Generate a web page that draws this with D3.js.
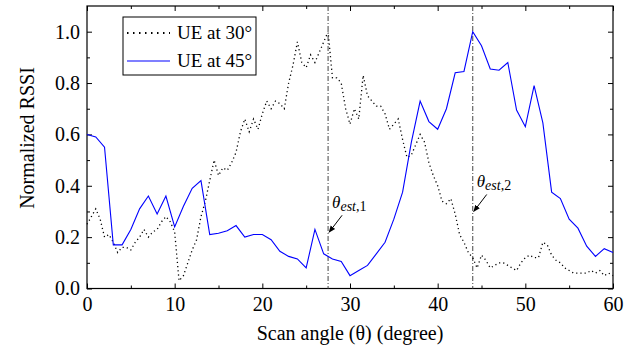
<!DOCTYPE html>
<html>
<head>
<meta charset="utf-8">
<script src="https://cdn.jsdelivr.net/npm/d3@7"></script>
<style>
  html, body { margin: 0; padding: 0; background: #fff; }
  svg, svg text { font-family: "Times New Roman", "Liberation Serif", Times, serif; }
</style>
</head>
<body>
<svg id="chart" width="641" height="351"></svg>
<script>
// UE at 45°: one sample per degree, 0..60
const angles45 = d3.range(0, 61, 1);
const rssi45 = [
  0.60, 0.59, 0.55, 0.17, 0.17, 0.23, 0.31, 0.36, 0.29, 0.36,
  0.24, 0.32, 0.39, 0.42, 0.21, 0.215, 0.225, 0.245, 0.20, 0.21,
  0.21, 0.19, 0.145, 0.125, 0.115, 0.08, 0.23, 0.135, 0.115, 0.105,
  0.05, 0.07, 0.09, 0.135, 0.18, 0.27, 0.375, 0.57, 0.73, 0.65,
  0.62, 0.70, 0.84, 0.845, 1.00, 0.945, 0.855, 0.85, 0.88, 0.695,
  0.63, 0.79, 0.645, 0.375, 0.35, 0.27, 0.235, 0.165, 0.125, 0.155,
  0.14
];

// UE at 30°: one sample per half degree, 0..60
const angles30 = d3.range(0, 60.5, 0.5);
const rssi30 = [
  0.25, 0.28, 0.31, 0.27, 0.20, 0.21, 0.18, 0.14, 0.16, 0.16,
  0.15, 0.18, 0.20, 0.23, 0.20, 0.22, 0.23, 0.26, 0.28, 0.26,
  0.22, 0.03, 0.05, 0.10, 0.15, 0.19, 0.28, 0.34, 0.42, 0.50,
  0.44, 0.47, 0.46, 0.49, 0.53, 0.61, 0.66, 0.61, 0.66, 0.62,
  0.68, 0.73, 0.70, 0.73, 0.72, 0.70, 0.80, 0.87, 0.96, 0.88,
  0.86, 0.91, 0.88, 0.92, 0.96, 1.00, 0.82, 0.82, 0.80, 0.70,
  0.64, 0.70, 0.66, 0.83, 0.75, 0.73, 0.71, 0.71, 0.68, 0.62,
  0.64, 0.66, 0.58, 0.51, 0.52, 0.56, 0.60, 0.57, 0.49, 0.44,
  0.40, 0.34, 0.33, 0.35, 0.29, 0.21, 0.18, 0.14, 0.12, 0.08,
  0.13, 0.11, 0.08, 0.09, 0.10, 0.10, 0.09, 0.08, 0.07, 0.10,
  0.12, 0.13, 0.12, 0.12, 0.18, 0.17, 0.13, 0.11, 0.10, 0.08,
  0.07, 0.06, 0.06, 0.06, 0.06, 0.07, 0.06, 0.07, 0.05, 0.06,
  0.05
];

const estAngles = [27.5, 44];
const estLabels = ["1", "2"];
const estArrowY = [0.215, 0.296];

const xTicks = [0, 10, 20, 30, 40, 50, 60];
const xMinor = [5, 15, 25, 35, 45, 55];
const yTicks = [0, 0.2, 0.4, 0.6, 0.8, 1.0];
const yMinor = [0.1, 0.3, 0.5, 0.7, 0.9];

const legendItems = [
  {label: "UE at 30°", dashed: true, color: "#000"},
  {label: "UE at 45°", dashed: false, color: "#0000ff"},
];

const FONT = "'Times New Roman', 'Liberation Serif', Times, serif";
const FS = 20;
const W = 641, H = 351;
const margin = {top: 6, right: 28, bottom: 63, left: 87};
const svg = d3.select("#chart").attr("font-family", FONT);

const x = d3.scaleLinear().domain([0, 60]).range([margin.left, W - margin.right]);
const y = d3.scaleLinear().domain([0, 1.1]).range([H - margin.bottom + 0.5, margin.top]);

// ── axes (ticks inward on all four sides) ──────────────────────────────
function styleAxis(g) {
  g.attr("font-family", FONT).attr("font-size", FS);
  g.selectAll("path.domain").remove();
  g.selectAll("line").attr("stroke", "#000").attr("stroke-width", 1);
  g.selectAll("text").attr("fill", "#000");
}

svg.append("g").attr("transform", `translate(0,${y(0)})`)
  .call(d3.axisBottom(x).tickValues(xTicks).tickSize(-5).tickPadding(8).tickFormat(d3.format("d")))
  .call(styleAxis);
svg.append("g").attr("transform", `translate(0,${y(0)})`)
  .call(d3.axisBottom(x).tickValues(xMinor).tickSize(-3).tickFormat(""))
  .call(styleAxis);
svg.append("g").attr("transform", `translate(0,${margin.top})`)
  .call(d3.axisTop(x).tickValues(xTicks).tickSize(-5).tickFormat(""))
  .call(styleAxis);
svg.append("g").attr("transform", `translate(0,${margin.top})`)
  .call(d3.axisTop(x).tickValues(xMinor).tickSize(-3).tickFormat(""))
  .call(styleAxis);

svg.append("g").attr("transform", `translate(${margin.left},0)`)
  .call(d3.axisLeft(y).tickValues(yTicks).tickSize(-5).tickPadding(7).tickFormat(d3.format(".1f")))
  .call(styleAxis);
svg.append("g").attr("transform", `translate(${margin.left},0)`)
  .call(d3.axisLeft(y).tickValues(yMinor).tickSize(-3).tickFormat(""))
  .call(styleAxis);
svg.append("g").attr("transform", `translate(${W - margin.right},0)`)
  .call(d3.axisRight(y).tickValues(yTicks).tickSize(-5).tickFormat(""))
  .call(styleAxis);
svg.append("g").attr("transform", `translate(${W - margin.right},0)`)
  .call(d3.axisRight(y).tickValues(yMinor).tickSize(-3).tickFormat(""))
  .call(styleAxis);

// frame
svg.append("rect")
  .attr("x", margin.left).attr("y", margin.top)
  .attr("width", W - margin.left - margin.right)
  .attr("height", y(0) - margin.top)
  .attr("fill", "none").attr("stroke", "#000").attr("stroke-width", 1.2);

// axis titles
svg.append("text")
  .attr("x", (margin.left + W - margin.right) / 2).attr("y", 340)
  .attr("text-anchor", "middle").attr("font-size", FS)
  .text("Scan angle (θ) (degree)");
svg.append("text")
  .attr("transform", `translate(34,138) rotate(-90)`)
  .attr("text-anchor", "middle").attr("font-size", FS)
  .text("Normalized RSSI");

// ── estimate markers ─────────────────────────────────────────────────────
const defs = svg.append("defs");
defs.append("marker")
  .attr("id", "arrow").attr("viewBox", "0 0 10 10")
  .attr("refX", 9).attr("refY", 5)
  .attr("markerWidth", 7).attr("markerHeight", 7)
  .attr("orient", "auto")
  .append("path").attr("d", "M0,1 L10,5 L0,9 Z").attr("fill", "#000");

estAngles.forEach((a, i) => {
  svg.append("line")
    .attr("x1", x(a)).attr("x2", x(a))
    .attr("y1", margin.top).attr("y2", y(0))
    .attr("stroke", "#555").attr("stroke-width", 1.1)
    .attr("stroke-dasharray", "5,2,1,2");
  const ay = y(estArrowY[i]);
  svg.append("line")
    .attr("x1", x(a) + 14).attr("y1", ay - 18)
    .attr("x2", x(a) + 1).attr("y2", ay - 1)
    .attr("stroke", "#000").attr("stroke-width", 1)
    .attr("marker-end", "url(#arrow)");
  const t = svg.append("text")
    .attr("x", x(a) + 4).attr("y", ay - 25)
    .attr("font-size", 17).attr("font-style", "italic");
  t.append("tspan").text("θ");
  t.append("tspan").attr("dy", 3).attr("font-size", 14).text("est");
  t.append("tspan").attr("font-size", 14).attr("font-style", "normal").text("," + estLabels[i]);
});

// ── series ───────────────────────────────────────────────────────────────
const line = d3.line().x(d => x(d[0])).y(d => y(d[1]));

svg.append("path")
  .datum(angles30.map((a, i) => [a, rssi30[i]]))
  .attr("d", line)
  .attr("fill", "none").attr("stroke", "#000").attr("stroke-width", 1.3)
  .attr("stroke-dasharray", "1.2,3");

svg.append("path")
  .datum(angles45.map((a, i) => [a, rssi45[i]]))
  .attr("d", line)
  .attr("fill", "none").attr("stroke", "#0000ff").attr("stroke-width", 1.1);

// ── legend ───────────────────────────────────────────────────────────────
const lg = svg.append("g").attr("transform", "translate(123,17)");
lg.append("rect").attr("width", 133).attr("height", 58)
  .attr("fill", "#fff").attr("stroke", "#000").attr("stroke-width", 1);
legendItems.forEach((it, i) => {
  const cy = 16 + i * 28;
  lg.append("line")
    .attr("x1", 4).attr("x2", 47).attr("y1", cy).attr("y2", cy)
    .attr("stroke", it.color).attr("stroke-width", it.dashed ? 1.8 : 1.1)
    .attr("stroke-dasharray", it.dashed ? "1.5,4.5" : null);
  lg.append("text")
    .attr("x", 54).attr("y", cy + 6)
    .attr("font-size", 19)
    .text(it.label);
});
</script>
</body>
</html>
